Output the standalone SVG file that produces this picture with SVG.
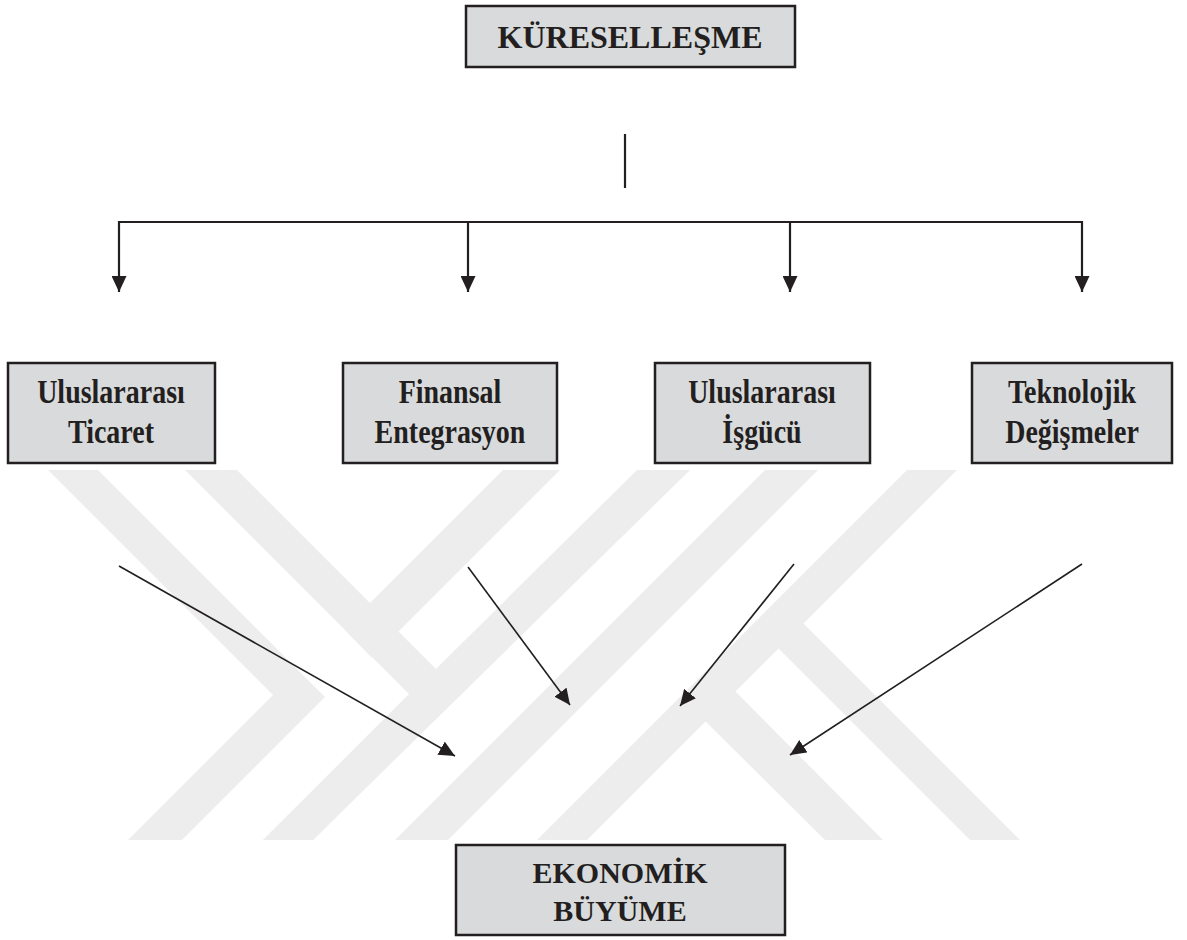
<svg xmlns="http://www.w3.org/2000/svg" width="1187" height="940" viewBox="0 0 1187 940">
<style>
.box{fill:#d9dadc;stroke:#231f20;stroke-width:2.5}
.t{font-family:"Liberation Serif","Times New Roman",serif;font-weight:bold;font-size:30px;fill:#231f20;text-anchor:middle}
.s{font-size:28px}
.big{font-size:32px}
.ln{stroke:#231f20;stroke-width:2.2;fill:none}
.dg{stroke:#231f20;stroke-width:1.6;fill:none}
.wm{fill:#ededed}
</style>
<defs>
<marker id="ah" viewBox="0 0 16 15" refX="16" refY="7.5" markerWidth="16" markerHeight="15" markerUnits="userSpaceOnUse" orient="auto">
<path d="M0,0 L16,7.5 L0,15 Z" fill="#231f20"/>
</marker>
</defs>
<rect width="1187" height="940" fill="#ffffff"/>
<g id="watermark">
<polygon class="wm" points="48,470 98,470 325,697 182,840 128,840 273,695"/>
<polygon class="wm" points="185,470 237,470 460,693 313,840 263,840 409,694"/>
<polygon class="wm" points="637,470 690,470 313,840 263,840"/>
<polygon class="wm" points="503,470 560,470 372,658 344,629"/>
<polygon class="wm" points="765,470 818,470 448,840 395,840"/>
<polygon class="wm" points="907,470 957,470 587,840 537,840"/>
<polygon class="wm" points="692,708 722,678 883,840 825,840"/>
<polygon class="wm" points="765,635 790,610 1020,840 970,840"/>
</g>
<g id="connectors">
<line class="ln" x1="625" y1="134" x2="625" y2="188"/>
<line class="ln" x1="118" y1="222" x2="1083" y2="222"/>
<line class="ln" x1="119" y1="221" x2="119" y2="292" marker-end="url(#ah)"/>
<line class="ln" x1="468" y1="221" x2="468" y2="292" marker-end="url(#ah)"/>
<line class="ln" x1="790" y1="221" x2="790" y2="292" marker-end="url(#ah)"/>
<line class="ln" x1="1082" y1="221" x2="1082" y2="292" marker-end="url(#ah)"/>
<line class="dg" x1="119" y1="566" x2="455" y2="756" marker-end="url(#ah)"/>
<line class="dg" x1="468" y1="567" x2="570" y2="705" marker-end="url(#ah)"/>
<line class="dg" x1="794" y1="564" x2="680" y2="706" marker-end="url(#ah)"/>
<line class="dg" x1="1082" y1="564" x2="790" y2="755" marker-end="url(#ah)"/>
</g>
<g id="kuresellesme">
<rect class="box" x="466" y="6" width="329" height="61"/>
<text class="t big" x="630" y="48">KÜRESELLEŞME</text>
</g>
<g id="uluslararasi-ticaret">
<rect class="box" x="8" y="363" width="207" height="100"/>
<text class="t s" transform="translate(111,403) scale(1,1.2)">Uluslararası</text>
<text class="t s" transform="translate(111,443) scale(1,1.2)">Ticaret</text>
</g>
<g id="finansal-entegrasyon">
<rect class="box" x="343" y="363" width="214" height="100"/>
<text class="t s" transform="translate(450,403) scale(1,1.2)">Finansal</text>
<text class="t s" transform="translate(450,443) scale(1,1.2)">Entegrasyon</text>
</g>
<g id="uluslararasi-isgucu">
<rect class="box" x="655" y="363" width="215" height="100"/>
<text class="t s" transform="translate(762,403) scale(1,1.2)">Uluslararası</text>
<text class="t s" transform="translate(762,443) scale(1,1.2)">İşgücü</text>
</g>
<g id="teknolojik-degismeler">
<rect class="box" x="972" y="363" width="200" height="100"/>
<text class="t s" transform="translate(1072,403) scale(1,1.2)">Teknolojik</text>
<text class="t s" transform="translate(1072,443) scale(1,1.2)">Değişmeler</text>
</g>
<g id="ekonomik-buyume">
<rect class="box" x="456" y="845" width="329" height="90"/>
<text class="t" x="620" y="883">EKONOMİK</text>
<text class="t" x="620" y="921">BÜYÜME</text>
</g>
</svg>
